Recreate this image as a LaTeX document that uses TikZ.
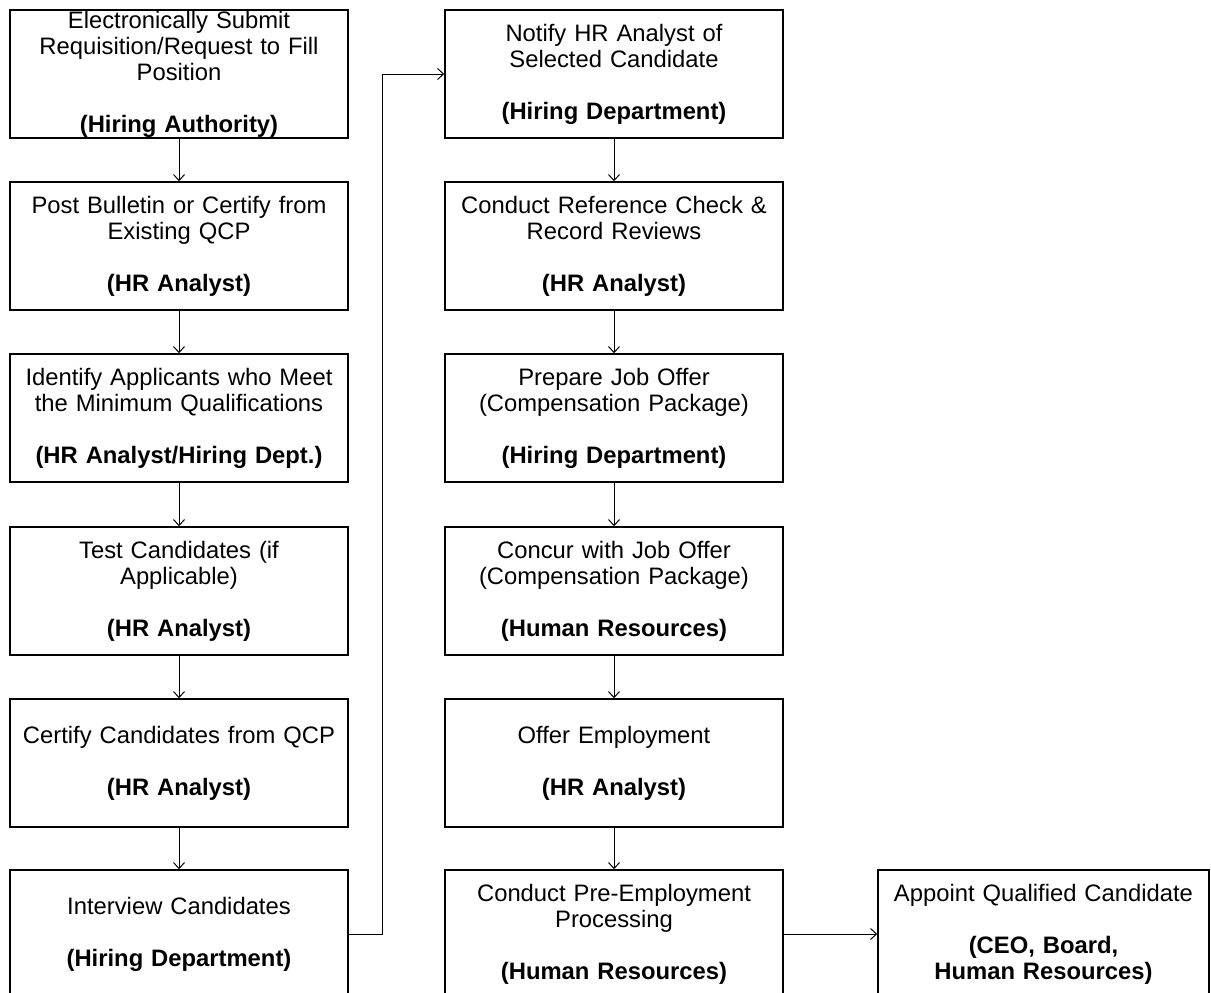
\documentclass[tikz,border=0pt]{standalone}
\usepackage{fontspec}
\setmainfont{Liberation Sans}
\usetikzlibrary{arrows.meta}
\begin{document}
\begin{tikzpicture}[x=1pt,y=-1pt,
  box/.style={draw, line width=1.5pt, minimum width=338pt, minimum height=128pt,
    inner sep=0pt, text width=330pt, align=center,
    font=\fontsize{23.8}{26}\selectfont},
  arr/.style={-{Straight Barb[length=6pt,width=11pt]}, line width=1pt}]
\useasboundingbox (0,0) rectangle (1211,993);
\clip (0,0) rectangle (1211,993);
\fill[white] (0,0) rectangle (1211,993);
% left column
\node[box] (l1) at (179,74) {Electronically Submit\\Requisition/Request to Fill\\Position\\[26pt]\textbf{(Hiring Authority)}};
\node[box] (l2) at (179,246) {Post Bulletin or Certify from\\Existing QCP\\[26pt]\textbf{(HR Analyst)}};
\node[box] (l3) at (179,418) {Identify Applicants who Meet\\the Minimum Qualifications\\[26pt]\textbf{(HR Analyst/Hiring Dept.)}};
\node[box] (l4) at (179,591) {Test Candidates (if\\Applicable)\\[26pt]\textbf{(HR Analyst)}};
\node[box] (l5) at (179,763) {Certify Candidates from QCP\\[26pt]\textbf{(HR Analyst)}};
\node[box] (l6) at (179,934) {Interview Candidates\\[26pt]\textbf{(Hiring Department)}};
% middle column
\node[box] (m1) at (614,74) {Notify HR Analyst of\\Selected Candidate\\[26pt]\textbf{(Hiring Department)}};
\node[box] (m2) at (614,246) {Conduct Reference Check \&\\Record Reviews\\[26pt]\textbf{(HR Analyst)}};
\node[box] (m3) at (614,418) {Prepare Job Offer\\(Compensation Package)\\[26pt]\textbf{(Hiring Department)}};
\node[box] (m4) at (614,591) {Concur with Job Offer\\(Compensation Package)\\[26pt]\textbf{(Human Resources)}};
\node[box] (m5) at (614,763) {Offer Employment\\[26pt]\textbf{(HR Analyst)}};
\node[box] (m6) at (614,934) {Conduct Pre-Employment\\Processing\\[26pt]\textbf{(Human Resources)}};
% right
\node[box, minimum width=331pt, text width=325pt] (r1) at (1043.5,934) {Appoint Qualified Candidate\\[26pt]\textbf{(CEO, Board,}\\\textbf{Human Resources)}};
% connectors
\draw[arr] (l1) -- (l2);
\draw[arr] (l2) -- (l3);
\draw[arr] (l3) -- (l4);
\draw[arr] (l4) -- (l5);
\draw[arr] (l5) -- (l6);
\coordinate (turn) at (382,500);
\draw[arr] (l6.east) -- (l6.east -| turn) -- (turn |- m1.west) -- (m1.west);
\draw[arr] (m1) -- (m2);
\draw[arr] (m2) -- (m3);
\draw[arr] (m3) -- (m4);
\draw[arr] (m4) -- (m5);
\draw[arr] (m5) -- (m6);
\draw[arr] (m6) -- (r1);
\end{tikzpicture}
\end{document}
